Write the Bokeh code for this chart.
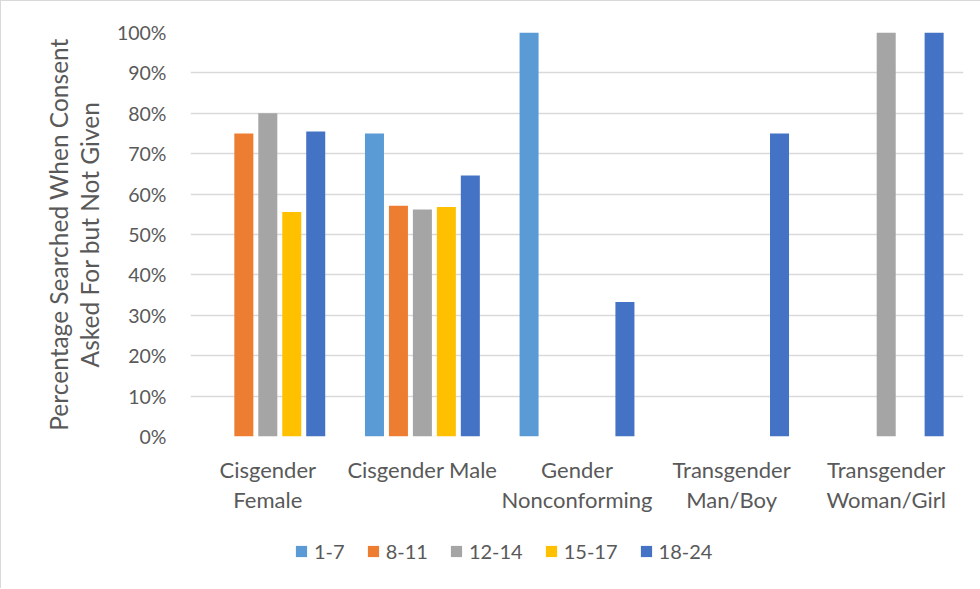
from bokeh.plotting import figure
from bokeh.layouts import column
from bokeh.models import FactorRange, Range1d, NumeralTickFormatter, Legend, LegendItem, FixedTicker, ColumnDataSource
from bokeh.transform import dodge
from bokeh.embed import file_html
from bokeh.resources import INLINE

categories = ["Cisgender\nFemale", "Cisgender Male", "Gender\nNonconforming",
              "Transgender\nMan/Boy", "Transgender\nWoman/Girl"]
age_groups = ["1-7", "8-11", "12-14", "15-17", "18-24"]
v_1_7 = [None, 0.75, 1.00, None, None]
v_8_11 = [0.75, 0.571, None, None, None]
v_12_14 = [0.80, 0.562, None, None, 1.00]
v_15_17 = [0.556, 0.568, None, None, None]
v_18_24 = [0.755, 0.646, 0.333, 0.75, 1.00]
y_ticks = [0, 0.1, 0.2, 0.3, 0.4, 0.5, 0.6, 0.7, 0.8, 0.9, 1.0]

series = [v_1_7, v_8_11, v_12_14, v_15_17, v_18_24]
colors = ["#5B9BD5", "#ED7D31", "#A5A5A5", "#FFC000", "#4472C4"]
offsets = [-0.31, -0.155, 0.0, 0.155, 0.31]

FONT = "Lato"
TXT = "#595959"

data = {"cat": categories}
for g, s in zip(age_groups, series):
    data[g] = [float("nan") if v is None else v for v in s]
src = ColumnDataSource(data)

p = figure(x_range=FactorRange(*categories), y_range=Range1d(0, 1),
           frame_width=773, frame_height=404, output_backend="svg", toolbar_location=None,
           min_border_left=189, min_border_right=17, min_border_top=31,
           min_border_bottom=80)
p.outline_line_color = None
p.background_fill_color = "white"

for g, c, off in zip(age_groups, colors, offsets):
    p.vbar(x=dodge("cat", off, range=p.x_range), top=g, width=0.123, bottom=0,
           source=src, fill_color=c, line_color=None)

p.xgrid.grid_line_color = None
p.ygrid.grid_line_color = "#d9d9d9"
p.ygrid.grid_line_width = 1.3
p.yaxis.ticker = FixedTicker(ticks=y_ticks)
p.yaxis.formatter = NumeralTickFormatter(format="0%")

for ax in (p.xaxis, p.yaxis):
    ax.axis_line_color = None
    ax.major_tick_line_color = None
    ax.minor_tick_line_color = None
    ax.major_tick_out = 0
    ax.major_tick_in = 0
    ax.major_label_text_font = FONT
    ax.major_label_text_color = TXT

p.yaxis.major_label_text_font_size = "19.5px"
p.xaxis.major_label_text_font_size = "22px"
p.xaxis.major_label_text_line_height = 1.12
p.yaxis.major_label_standoff = 24
p.xaxis.major_label_standoff = 19
p.yaxis.axis_label = "Percentage Searched When Consent\nAsked For but Not Given"
p.yaxis.axis_label_text_font = FONT
p.yaxis.axis_label_text_font_size = "24.5px"
p.yaxis.axis_label_text_line_height = 1.07
p.yaxis.axis_label_text_font_style = "normal"
p.yaxis.axis_label_text_color = TXT
p.yaxis.axis_label_standoff = 10

# legend strip below the chart (hidden copies of the series feed the legend glyphs)
pl = figure(width=979, height=72, output_backend="svg", toolbar_location=None,
            x_range=p.x_range, y_range=Range1d(0, 1),
            min_border_left=0, min_border_right=0, min_border_top=0, min_border_bottom=0)
pl.outline_line_color = None
pl.axis.visible = False
pl.grid.visible = False
items = []
for g, c, off in zip(age_groups, colors, offsets):
    r = pl.vbar(x=dodge("cat", off, range=p.x_range), top=g, width=0.123, bottom=0,
                source=src, fill_color=c, line_color=None, visible=False)
    items.append(LegendItem(label=g, renderers=[r]))
legend = Legend(items=items, orientation="horizontal", location=(104, 25),
                label_text_font=FONT, label_text_font_size="20px",
                label_text_color=TXT, glyph_width=14, glyph_height=14,
                label_standoff=6, spacing=21, padding=0, margin=0,
                inactive_fill_alpha=0,
                border_line_color=None, background_fill_alpha=0)
pl.add_layout(legend, "center")

layout = column(p, pl, spacing=0)
layout.styles = {"border-left": "1px solid #d9d9d9", "border-top": "1px solid #d9d9d9"}

open("out.html", "w").write(file_html(layout, INLINE))
